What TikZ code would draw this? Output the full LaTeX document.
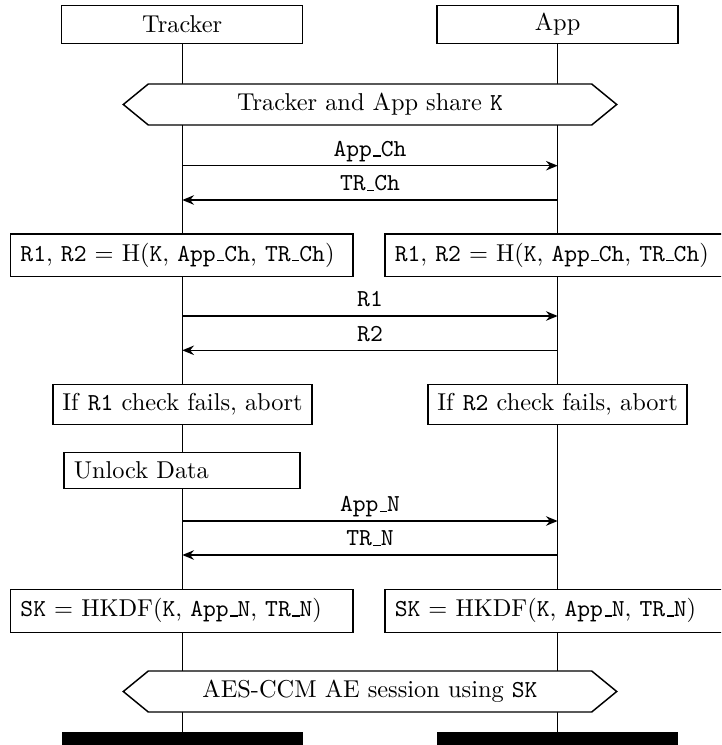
\documentclass[tikz,border=0pt]{standalone}
\usetikzlibrary{arrows.meta}
\newcommand\usc{\leavevmode\kern.06em\vbox{\hrule height 0.6pt width .3em}}
\newcommand\pxl{0.41pt}
\begin{document}
\begin{tikzpicture}[x=0.41pt,y=-0.41pt,line width=0.6pt,
  box/.style={draw,fill=white,inner sep=0pt,align=center},
  lbox/.style={draw,fill=white,inner xsep=4pt,inner ysep=0pt,align=left},
  msg/.style={-{Stealth[length=4.8pt,width=3.9pt,inset=1.6pt]}},
  lbl/.style={anchor=base,inner sep=0pt,yshift=3.7pt},
  hexa/.style={draw,fill=white},
  bar/.style={fill=black,draw=none,inner sep=0pt}]
\useasboundingbox (0,0) rectangle (721,745);
\clip (0,0) rectangle (721,745);

% lifelines
\coordinate (tl0) at (182.3,43.3);
\coordinate (tl1) at (182.3,745);
\coordinate (al0) at (557.7,43.3);
\coordinate (al1) at (557.7,745);
\draw (tl0) -- (tl1);
\draw (al0) -- (al1);

% heads
\node[box,minimum width=241*\pxl,minimum height=37.6*\pxl] (tracker) at (182.2,24.5) {Tracker};
\node[box,minimum width=241*\pxl,minimum height=37.6*\pxl] (app) at (557.6,24.5) {App};

% shared key
\draw[hexa] (123.3,104.5) -- (148.3,84) -- (591.7,84) -- (616.7,104.5) -- (591.7,125) -- (148.3,125) -- cycle;
\node (share) at (370,104.5) {Tracker and App share \texttt{K}};

% challenges
\coordinate (m1t) at (182.3,165.7); \coordinate (m1a) at (557.7,165.7);
\coordinate (m2t) at (182.3,200);   \coordinate (m2a) at (557.7,200);
\draw[msg] (m1t) -- (m1a) node[lbl,midway] {\texttt{App\usc Ch}};
\draw[msg] (m2a) -- (m2t) node[lbl,midway] {\texttt{TR\usc Ch}};

% hash boxes
\node[lbox,text width=322.8*\pxl,minimum height=42.5*\pxl] (hL) at (181.85,255.3)
  {\texttt{R1}, \texttt{R2} $=$ H(\texttt{K}, \texttt{App\usc Ch}, \texttt{TR\usc Ch})};
\node[lbox,text width=322.8*\pxl,minimum height=42.5*\pxl] (hR) at (556.15,255.3)
  {\texttt{R1}, \texttt{R2} $=$ H(\texttt{K}, \texttt{App\usc Ch}, \texttt{TR\usc Ch})};

% responses
\coordinate (m3t) at (182.3,316);   \coordinate (m3a) at (557.7,316);
\coordinate (m4t) at (182.3,350.3); \coordinate (m4a) at (557.7,350.3);
\draw[msg] (m3t) -- (m3a) node[lbl,midway] {\texttt{R1}};
\draw[msg] (m4a) -- (m4t) node[lbl,midway] {\texttt{R2}};

% checks
\node[box,minimum width=259*\pxl,minimum height=40*\pxl] (cL) at (182.5,404.3) {If \texttt{R1} check fails, abort};
\node[box,minimum width=259*\pxl,minimum height=40*\pxl] (cR) at (557.5,404.3) {If \texttt{R2} check fails, abort};

% unlock
\node[lbox,text width=216.5*\pxl,minimum height=35.6*\pxl] (unl) at (182,470.5) {Unlock Data};

% nonces
\coordinate (m5t) at (182.3,521);   \coordinate (m5a) at (557.7,521);
\coordinate (m6t) at (182.3,555);   \coordinate (m6a) at (557.7,555);
\draw[msg] (m5t) -- (m5a) node[lbl,midway] {\texttt{App\usc N}};
\draw[msg] (m6a) -- (m6t) node[lbl,midway] {\texttt{TR\usc N}};

% session keys
\node[lbox,text width=322.8*\pxl,minimum height=43*\pxl] (sL) at (181.85,610.8)
  {\texttt{SK} $=$ HKDF(\texttt{K}, \texttt{App\usc N}, \texttt{TR\usc N})};
\node[lbox,text width=322.8*\pxl,minimum height=43*\pxl] (sR) at (556.15,610.8)
  {\texttt{SK} $=$ HKDF(\texttt{K}, \texttt{App\usc N}, \texttt{TR\usc N})};

% session
\draw[hexa] (123.3,691.5) -- (148.3,671) -- (591.7,671) -- (616.7,691.5) -- (591.7,712) -- (148.3,712) -- cycle;
\node (sess) at (370,691.5) {AES-CCM AE session using \texttt{SK}};

% end bars
\node[bar,minimum width=241*\pxl,minimum height=20*\pxl] (tbar) at (182.2,742) {};
\node[bar,minimum width=241*\pxl,minimum height=20*\pxl] (abar) at (557.6,742) {};
\end{tikzpicture}
\end{document}
